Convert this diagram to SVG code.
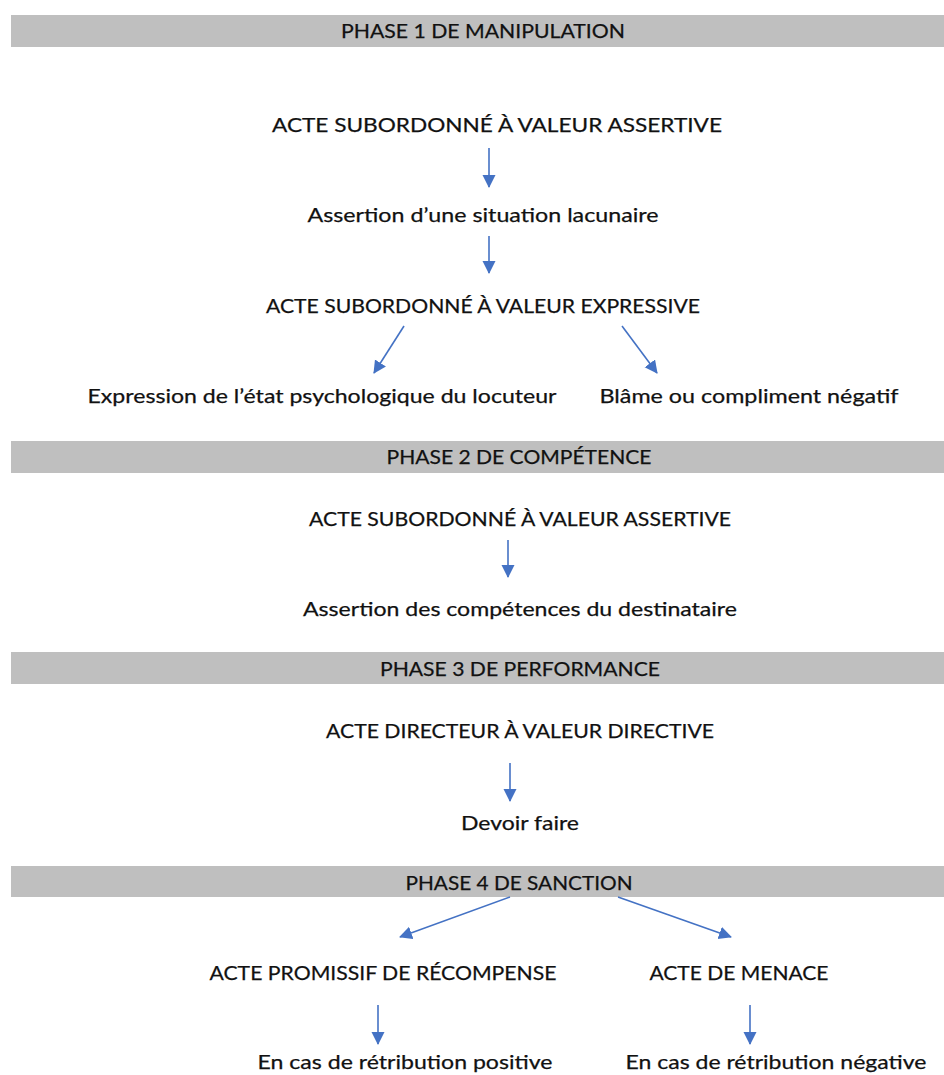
<svg xmlns="http://www.w3.org/2000/svg" width="944" height="1075" viewBox="0 0 944 1075">
<defs>
<style>
.bar{fill:#bfbfbf;}
.t{font-family:Lato,"Open Sans","Liberation Sans",sans-serif;font-size:20px;fill:#111;text-anchor:middle;stroke:#111;stroke-width:0.25px;}
.c{stroke:#4472c4;stroke-width:1.6;fill:none;marker-end:url(#ah);}
</style>
<marker id="ah" markerUnits="userSpaceOnUse" markerWidth="14" markerHeight="14" refX="12" refY="6.5" orient="auto">
<path d="M0,0 L13,6.5 L0,13 Z" fill="#4472c4"/>
</marker>
</defs>
<rect width="944" height="1075" fill="#fff"/>
<g id="phase1">
<rect class="bar" x="11" y="15" width="933" height="32"/>
<text class="t" x="483" y="38" textLength="284" lengthAdjust="spacingAndGlyphs">PHASE 1 DE MANIPULATION</text>
</g>
<g id="n1"><text class="t" x="497" y="132" textLength="450" lengthAdjust="spacingAndGlyphs">ACTE SUBORDONNÉ À VALEUR ASSERTIVE</text></g>
<g id="n2"><text class="t" x="483" y="222" textLength="351" lengthAdjust="spacingAndGlyphs">Assertion d’une situation lacunaire</text></g>
<g id="n3"><text class="t" x="483" y="313" textLength="434" lengthAdjust="spacingAndGlyphs">ACTE SUBORDONNÉ À VALEUR EXPRESSIVE</text></g>
<g id="n4"><text class="t" x="322" y="403" textLength="469" lengthAdjust="spacingAndGlyphs">Expression de l’état psychologique du locuteur</text></g>
<g id="n5"><text class="t" x="749" y="403" textLength="299" lengthAdjust="spacingAndGlyphs">Blâme ou compliment négatif</text></g>
<g id="phase2">
<rect class="bar" x="11" y="441" width="933" height="32"/>
<text class="t" x="519" y="464" textLength="265" lengthAdjust="spacingAndGlyphs">PHASE 2 DE COMPÉTENCE</text>
</g>
<g id="n6"><text class="t" x="520" y="526" textLength="422" lengthAdjust="spacingAndGlyphs">ACTE SUBORDONNÉ À VALEUR ASSERTIVE</text></g>
<g id="n7"><text class="t" x="520" y="616" textLength="434" lengthAdjust="spacingAndGlyphs">Assertion des compétences du destinataire</text></g>
<g id="phase3">
<rect class="bar" x="11" y="652" width="933" height="32"/>
<text class="t" x="520" y="676" textLength="280" lengthAdjust="spacingAndGlyphs">PHASE 3 DE PERFORMANCE</text>
</g>
<g id="n8"><text class="t" x="520" y="738" textLength="388" lengthAdjust="spacingAndGlyphs">ACTE DIRECTEUR À VALEUR DIRECTIVE</text></g>
<g id="n9"><text class="t" x="520" y="830" textLength="118" lengthAdjust="spacingAndGlyphs">Devoir faire</text></g>
<g id="phase4">
<rect class="bar" x="11" y="866" width="933" height="31"/>
<text class="t" x="519" y="890" textLength="227" lengthAdjust="spacingAndGlyphs">PHASE 4 DE SANCTION</text>
</g>
<g id="n10"><text class="t" x="383" y="980" textLength="347" lengthAdjust="spacingAndGlyphs">ACTE PROMISSIF DE RÉCOMPENSE</text></g>
<g id="n11"><text class="t" x="739" y="980" textLength="179" lengthAdjust="spacingAndGlyphs">ACTE DE MENACE</text></g>
<g id="n12"><text class="t" x="405" y="1069" textLength="295" lengthAdjust="spacingAndGlyphs">En cas de rétribution positive</text></g>
<g id="n13"><text class="t" x="776" y="1069" textLength="301" lengthAdjust="spacingAndGlyphs">En cas de rétribution négative</text></g>
<g id="connectors">
<line class="c" x1="489" y1="148" x2="489" y2="187"/>
<line class="c" x1="489" y1="236" x2="489" y2="273"/>
<line class="c" x1="404" y1="326" x2="374" y2="373"/>
<line class="c" x1="622" y1="326" x2="657" y2="373"/>
<line class="c" x1="508" y1="540" x2="508" y2="577"/>
<line class="c" x1="510" y1="763" x2="510" y2="801"/>
<line class="c" x1="510" y1="897" x2="400" y2="937"/>
<line class="c" x1="618" y1="897" x2="731" y2="937"/>
<line class="c" x1="378" y1="1005" x2="378" y2="1044"/>
<line class="c" x1="750" y1="1005" x2="750" y2="1044"/>
</g>
</svg>
